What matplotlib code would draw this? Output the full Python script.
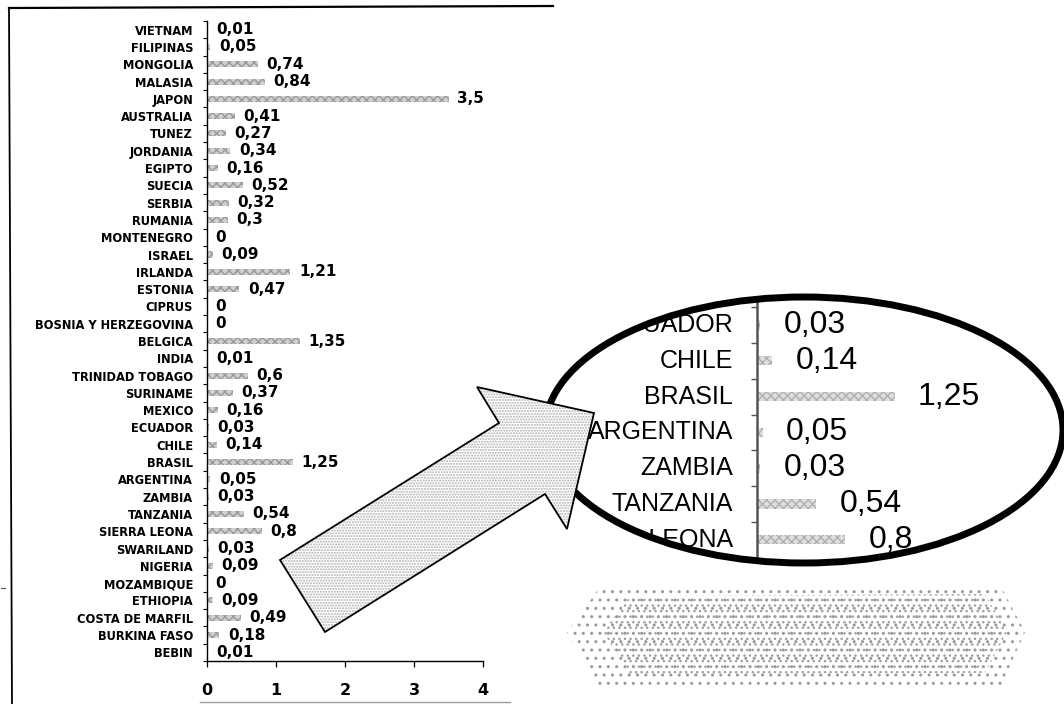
import numpy as np
import matplotlib.pyplot as plt
from matplotlib.patches import Ellipse, Polygon, PathPatch
from matplotlib.path import Path

countries = [
    "VIETNAM", "FILIPINAS", "MONGOLIA", "MALASIA", "JAPON", "AUSTRALIA",
    "TUNEZ", "JORDANIA", "EGIPTO", "SUECIA", "SERBIA", "RUMANIA",
    "MONTENEGRO", "ISRAEL", "IRLANDA", "ESTONIA", "CIPRUS",
    "BOSNIA Y HERZEGOVINA", "BELGICA", "INDIA", "TRINIDAD TOBAGO",
    "SURINAME", "MEXICO", "ECUADOR", "CHILE", "BRASIL", "ARGENTINA",
    "ZAMBIA", "TANZANIA", "SIERRA LEONA", "SWARILAND", "NIGERIA",
    "MOZAMBIQUE", "ETHIOPIA", "COSTA DE MARFIL", "BURKINA FASO", "BEBIN",
]
values = [
    0.01, 0.05, 0.74, 0.84, 3.5, 0.41,
    0.27, 0.34, 0.16, 0.52, 0.32, 0.3,
    0, 0.09, 1.21, 0.47, 0,
    0, 1.35, 0.01, 0.6,
    0.37, 0.16, 0.03, 0.14, 1.25, 0.05,
    0.03, 0.54, 0.8, 0.03, 0.09,
    0, 0.09, 0.49, 0.18, 0.01,
]
x_ticks = [0, 1, 2, 3, 4]
zoom_first, zoom_last = "ECUADOR", "SIERRA LEONA"

W, H = 1064, 704


def fmt(v):
    return f"{v:g}".replace(".", ",")


def fig_rect(x0, y0, x1, y1):
    # pixel box (top-left origin) -> figure fraction
    return [x0 / W, 1 - y1 / H, (x1 - x0) / W, (y1 - y0) / H]


fig = plt.figure(figsize=(W / 100, H / 100), dpi=100)
y = np.arange(len(countries))

# main chart
ax = fig.add_axes(fig_rect(207, 21, 483, 661))
ax.barh(y, values, height=0.35, color="#cfcfcf", hatch="xxxx",
        edgecolor="#9a9a9a", linewidth=0)
ax.set_yticks(y, countries)
ax.set_yticks(np.arange(len(countries) + 1) - 0.5, minor=True)
ax.set_xticks(x_ticks)
ax.set_xlim(0, 4)
ax.set_ylim(len(countries) - 0.5, -0.5)
ax.tick_params(axis="y", which="major", length=0, pad=10, labelsize=8.3)
ax.tick_params(axis="y", which="minor", length=3, width=0.8)
ax.tick_params(axis="x", length=4, width=0.9, pad=12, labelsize=11.5)
for lab in ax.get_yticklabels() + ax.get_xticklabels():
    lab.set_fontweight("bold")
for side in ("top", "right"):
    ax.spines[side].set_visible(False)
for side in ("left", "bottom"):
    ax.spines[side].set_linewidth(1.0)
for yi, v in zip(y, values):
    ax.annotate(fmt(v), (v, yi), xytext=(6, 0), textcoords="offset points",
                ha="left", va="center", fontsize=11, fontweight="bold")

# magnified inset inside the ellipse
i0 = countries.index(zoom_first)
i1 = countries.index(zoom_last) + 1
zy, zc, zv = y[i0:i1], countries[i0:i1], values[i0:i1]
ex0, ey0, ex1, ey1 = 545, 297, 1063, 563
px_unit, px_row, spine_x, row0_y = 110, 35.8, 757, 325
axz = fig.add_axes(fig_rect(ex0, ey0, ex1, ey1))
axz.patch.set_visible(False)
axz.barh(zy, zv, height=0.26, color="#dedede", hatch="xxxx",
         edgecolor="#b0b0b0", linewidth=0)
for side in ("top", "right", "bottom"):
    axz.spines[side].set_visible(False)
axz.spines["left"].set_position(("data", 0))
axz.spines["left"].set_color("#555555")
axz.spines["left"].set_linewidth(1.8)
axz.set_xticks([])
axz.set_yticks([])
axz.set_yticks(np.arange(len(countries) + 1) - 0.5, minor=True)
axz.tick_params(axis="y", which="minor", length=4, width=1.0, color="#555555",
                labelleft=False)
axz.set_xlim((ex0 - spine_x) / px_unit, (ex1 - spine_x) / px_unit)
axz.set_ylim(i0 + (ey1 - row0_y) / px_row, i0 - (row0_y - ey0) / px_row)
for yi, name, v in zip(zy, zc, zv):
    axz.text(-24 / px_unit, yi, name, ha="right", va="center", fontsize=18,
             family="Liberation Sans")
    axz.annotate(fmt(v), (v, yi), xytext=(17, 0), textcoords="offset points",
                 ha="left", va="center", fontsize=23, family="Liberation Sans")

# white mask outside the ellipse, then the ellipse outline
t = np.linspace(0, 2 * np.pi, 240)
ell = np.column_stack([0.5 + 0.5 * np.cos(t), 0.5 + 0.5 * np.sin(t)])
rect = np.array([[-0.02, -0.02], [-0.02, 1.02], [1.02, 1.02], [1.02, -0.02], [-0.02, -0.02]])
verts = np.vstack([rect, ell])
codes = ([Path.MOVETO] + [Path.LINETO] * 3 + [Path.CLOSEPOLY]
         + [Path.MOVETO] + [Path.LINETO] * (len(ell) - 2) + [Path.CLOSEPOLY])
axz.add_patch(PathPatch(Path(verts, codes), transform=axz.transAxes,
                        facecolor="white", edgecolor="none", zorder=10,
                        clip_on=False))
axz.add_patch(Ellipse((0.5, 0.5), 1, 1, transform=axz.transAxes, fill=False,
                      edgecolor="black", linewidth=5, zorder=11, clip_on=False))

# overlay: scan frame, arrow and dotted shadow
ov = fig.add_axes([0, 0, 1, 1], zorder=5)
ov.set_xlim(0, W)
ov.set_ylim(H, 0)
ov.axis("off")
ov.patch.set_visible(False)
ov.plot([9, 12], [8, 704], color="black", lw=1.3)
ov.plot([9, 553], [8, 6], color="black", lw=1.6)
ov.plot([200, 510], [702, 702], color="#9a9a9a", lw=1.0)
ov.plot([1, 5], [588, 588], color="#555555", lw=0.8)

arrow = [(280, 560), (499, 423), (477, 387), (594, 413),
         (567, 529), (545, 494), (325, 632)]
ov.add_patch(Polygon(arrow, closed=True, facecolor="white", hatch="......",
                     edgecolor="#b0b0b0", linewidth=0, zorder=3))
ov.add_patch(Polygon(arrow, closed=True, fill=False, edgecolor="black",
                     linewidth=1.3, zorder=4))

outer = [(567, 632), (600, 587), (1000, 585), (1025, 632), (1000, 688), (600, 690)]
inner = [(603, 632), (630, 596), (985, 594), (1007, 632), (985, 673), (630, 674)]
ov.add_patch(Polygon(outer, closed=True, facecolor="none", hatch="..",
                     edgecolor="#999999", linewidth=0))
ov.add_patch(Polygon(inner, closed=True, facecolor="none", hatch="...",
                     edgecolor="#a0a0a0", linewidth=0))

fig.savefig("out.png", dpi=100)
